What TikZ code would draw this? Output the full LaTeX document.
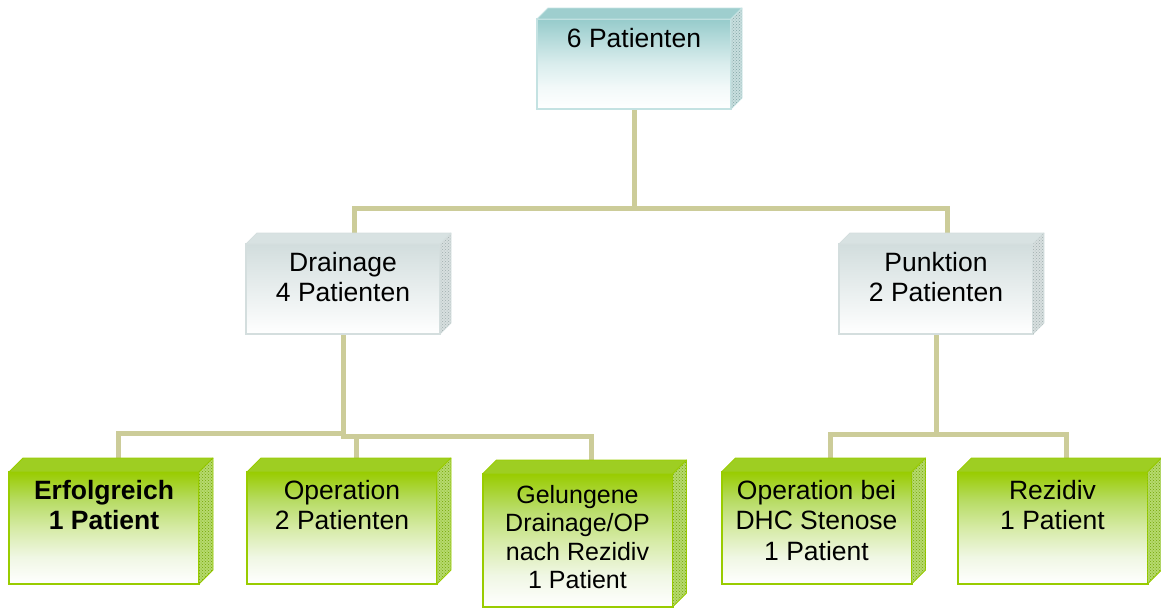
\documentclass[tikz,border=0pt]{standalone}
\usepackage{fontspec}
\setmainfont{Liberation Sans}
\usetikzlibrary{patterns,calc}

% palette
\definecolor{conncol}{RGB}{204,204,153}
\definecolor{tealtop}{RGB}{150,203,203}
\definecolor{tealface}{RGB}{158,206,206}
\definecolor{tealedge}{RGB}{196,226,226}
\definecolor{tealside}{RGB}{200,222,222}
\definecolor{tealdot}{RGB}{130,165,165}
\definecolor{graytop}{RGB}{210,221,221}
\definecolor{grayface}{RGB}{216,226,226}
\definecolor{grayedge}{RGB}{212,222,222}
\definecolor{grayside}{RGB}{215,223,223}
\definecolor{graydot}{RGB}{160,174,174}
\definecolor{greentop}{RGB}{153,204,0}
\definecolor{greenface}{RGB}{158,206,34}
\definecolor{greenedge}{RGB}{153,204,0}
\definecolor{greenside}{RGB}{182,218,110}
\definecolor{greendot}{RGB}{115,165,5}
\definecolor{greenA}{RGB}{184,220,102}
\definecolor{greenB}{RGB}{214,235,166}
\definecolor{greenC}{RGB}{240,247,228}
\definecolor{tealA}{RGB}{186,221,221}
\definecolor{tealB}{RGB}{218,237,237}
\definecolor{tealC}{RGB}{242,249,249}

% front faces fade to white towards the bottom
\pgfdeclareverticalshading{tealfade}{100bp}{color(0bp)=(white); color(25bp)=(white); color(37bp)=(tealC); color(50bp)=(tealB); color(62bp)=(tealA); color(75bp)=(tealtop); color(100bp)=(tealtop)}
\pgfdeclareverticalshading{grayfade}{100bp}{color(0bp)=(white); color(25bp)=(white); color(75bp)=(graytop); color(100bp)=(graytop)}
\pgfdeclareverticalshading{greenfade}{100bp}{color(0bp)=(white); color(25bp)=(white); color(37bp)=(greenC); color(50bp)=(greenB); color(62bp)=(greenA); color(75bp)=(greentop); color(100bp)=(greentop)}

\pgfdeclarelayer{back}
\pgfsetlayers{back,main}

% top face and textured side face of an extruded box, plus the
% anchor (<name>-top) where a connector meets it
\newcommand\boxsides[6]{%
  \coordinate (#1-top) at ([shift={(#2pt,#2pt)}]#1.north);
  \filldraw[fill=#3, draw=#6, line width=0.8pt, line join=round]
    (#1.north west) -- ([shift={(#2pt,#2pt)}]#1.north west)
    -- ([shift={(#2pt,#2pt)}]#1.north east) -- (#1.north east) -- cycle;
  \filldraw[fill=#4, draw=#6, line width=0.8pt, line join=round]
    (#1.north east) -- ([shift={(#2pt,#2pt)}]#1.north east)
    -- ([shift={(#2pt,#2pt)}]#1.south east) -- (#1.south east) -- cycle;
  \fill[pattern=crosshatch dots, pattern color=#5]
    (#1.north east) -- ([shift={(#2pt,#2pt)}]#1.north east)
    -- ([shift={(#2pt,#2pt)}]#1.south east) -- (#1.south east) -- cycle;
}

\tikzset{
  conn/.style={draw=conncol, line width=5pt, line join=miter},
  face/.style={rectangle, inner sep=0pt, outer sep=0pt},
  tealbox/.style={face, shading=tealfade, draw=tealedge, line width=1.2pt,
    minimum width=194pt, minimum height=90pt},
  graybox/.style={face, shading=grayfade, draw=grayedge, line width=1.2pt,
    minimum width=194pt, minimum height=90pt},
  greenbox/.style={face, shading=greenfade, draw=greenedge, line width=2pt,
    minimum width=190pt, minimum height=112pt},
  boxtext/.style={anchor=north, align=center, inner sep=0pt,
    font=\fontsize{26.5}{30.5}\selectfont},
  smalltext/.style={boxtext, font=\fontsize{25}{28.5}\selectfont},
}

\begin{document}
\begin{tikzpicture}[x=1pt, y=-1pt]
\useasboundingbox (0,0) rectangle (1161,608);

% level 1
\node[tealbox] (top) at (634,64) {};
\boxsides{top}{11}{tealface}{tealside}{tealdot}{tealedge}
\node[boxtext] (top-label) at ([yshift=-9pt]top.north) {6 Patienten};

% level 2
\node[graybox] (drain) at (343,289) {};
\boxsides{drain}{11}{grayface}{grayside}{graydot}{grayedge}
\node[boxtext] (drain-label) at ([yshift=-8pt]drain.north) {Drainage\\4 Patienten};

\node[graybox] (punk) at (936,289) {};
\boxsides{punk}{11}{grayface}{grayside}{graydot}{grayedge}
\node[boxtext] (punk-label) at ([yshift=-8pt]punk.north) {Punktion\\2 Patienten};

% level 3
\node[greenbox] (erf) at (104,528) {};
\boxsides{erf}{14}{greenface}{greenside}{greendot}{greenedge}
\node[boxtext] (erf-label) at ([yshift=-8pt]erf.north) {\textbf{Erfolgreich}\\\textbf{1 Patient}};

\node[greenbox] (op) at (342,528) {};
\boxsides{op}{14}{greenface}{greenside}{greendot}{greenedge}
\node[boxtext] (op-label) at ([yshift=-8pt]op.north) {Operation\\2 Patienten};

\node[greenbox, minimum height=133pt] (gel) at (577.5,540.5) {};
\boxsides{gel}{14}{greenface}{greenside}{greendot}{greenedge}
\node[smalltext] (gel-label) at ([yshift=-11pt]gel.north) {Gelungene\\Drainage/OP\\nach Rezidiv\\1 Patient};

\node[greenbox] (dhc) at (816.5,528) {};
\boxsides{dhc}{14}{greenface}{greenside}{greendot}{greenedge}
\node[boxtext] (dhc-label) at ([yshift=-8pt]dhc.north) {Operation bei\\DHC Stenose\\1 Patient};

\node[greenbox] (rez) at (1052.5,528) {};
\boxsides{rez}{14}{greenface}{greenside}{greendot}{greenedge}
\node[boxtext] (rez-label) at ([yshift=-8pt]rez.north) {Rezidiv\\1 Patient};

% connectors, behind the boxes
\begin{pgfonlayer}{back}
  \draw[conn] (top.south) |- ([yshift=25pt]drain-top) -- (drain-top);
  \draw[conn] (top.south) |- ([yshift=25pt]punk-top) -- (punk-top);
  \draw[conn] (drain.south) |- ([yshift=25pt]erf-top) -- (erf-top);
  \draw[conn] (drain.south) |- ([yshift=22pt]op-top) -- (op-top);
  \draw[conn] (drain.south) |- ([yshift=24pt]gel-top) -- (gel-top);
  \draw[conn] (punk.south) |- ([yshift=24pt]dhc-top) -- (dhc-top);
  \draw[conn] (punk.south) |- ([yshift=24pt]rez-top) -- (rez-top);
\end{pgfonlayer}
\end{tikzpicture}
\end{document}
